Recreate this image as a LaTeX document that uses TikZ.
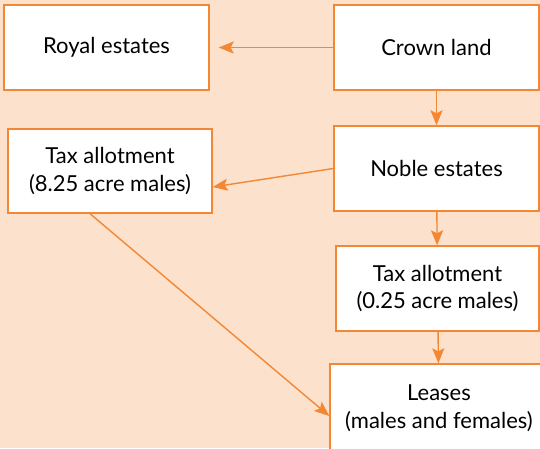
\documentclass[tikz,border=0pt]{standalone}
\usepackage{fontspec}
\setmainfont{Lato}
\usetikzlibrary{arrows.meta,positioning,calc}
\definecolor{peach}{RGB}{252,225,204}
\definecolor{orange}{RGB}{243,135,52}

\begin{document}
\begin{tikzpicture}[x=1pt,y=-1pt]
			\tikzset{line/.style={draw=orange,line width=1.4pt}}
			\tikzset{arrow/.style={line,-{Stealth[length=15pt,width=12pt,inset=3pt]}}}
			\tikzset{box/.style={line,fill=white,align=center,inner sep=0pt,minimum width=205pt,minimum height=85pt,font=\fontsize{22}{28}\selectfont}}

			\fill[peach] (0,0) rectangle (540,448);
			\useasboundingbox (0,0) rectangle (540,448);

			\node[box] (royal) at (106.5, 47.5) {Royal estates};
			\node[box] (crown) at (436.5, 47.5) {Crown land};
			\node[box,minimum width=204pt,minimum height=84pt] (taxhigh) at (110, 171) {Tax allotment\\(8.25 acre males)};
			\node[box] (noble) at (436.5, 168.5) {Noble estates};
			\node[box,minimum width=203pt] (taxlow) at (437.5, 288.5) {Tax allotment\\(0.25 acre males)};
			\node[box,minimum width=218pt,minimum height=88pt] (leases) at (439, 408) {Leases\\(males and females)};

			\path[arrow,shorten >=9pt] (crown) to (royal);
			\path[arrow] (crown) to (noble);
			\path[arrow] (noble.west) to ([yshift=-16pt]taxhigh.east);
			\path[arrow] (noble) to (taxlow);
			\path[arrow] (taxlow) to (leases);
			\path[arrow] ([xshift=-20pt]taxhigh.south) to ([yshift=-8pt]leases.west);
		\end{tikzpicture}
\end{document}
